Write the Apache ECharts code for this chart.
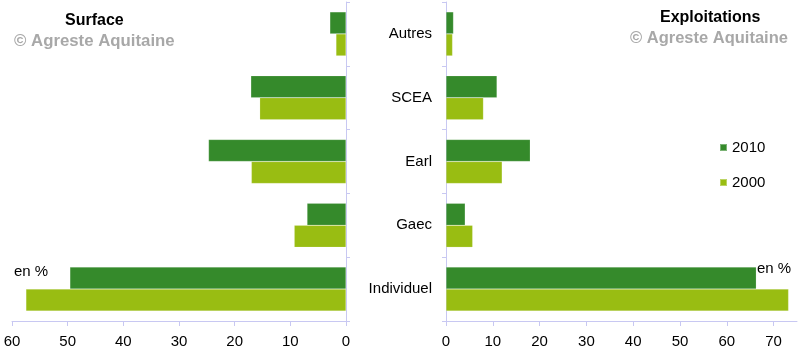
<!DOCTYPE html>
<html><head><meta charset="utf-8">
<script src="https://cdn.jsdelivr.net/npm/echarts@6/dist/echarts.min.js"></script>
<style>html,body{margin:0;padding:0;background:#fff}#c{width:800px;height:356px}</style>
</head><body><div id="c"></div>
<script>
const categories = ['Autres', 'SCEA', 'Earl', 'Gaec', 'Individuel'];
const surface2010 = [2.9, 17.1, 24.7, 7.0, 49.6];
const surface2000 = [1.8, 15.5, 17.0, 9.3, 57.5];
const exploit2010 = [1.6, 10.9, 18.0, 4.1, 66.3];
const exploit2000 = [1.4, 8.0, 12.0, 5.7, 73.2];
const surfaceTicks = [0, 10, 20, 30, 40, 50, 60];
const exploitTicks = [0, 10, 20, 30, 40, 50, 60, 70];

const C2010 = '#358a2b', C2000 = '#99bd12';
const axisCol = '#c8c8f2';
const font = 'Liberation Sans, Arial, sans-serif';
const chart = echarts.init(document.getElementById('c'));
const barStyle = (c) => ({ color: c, borderColor: 'rgba(255,255,255,0.35)', borderWidth: 0.5 });
chart.setOption({
  animation: false,
  textStyle: { fontFamily: font },
  title: [
    { text: 'Surface', left: 60, top: 8, textStyle: { fontSize: 16, fontWeight: 'bold', color: '#000', fontFamily: font } },
    { text: '© Agreste Aquitaine', left: 9, top: 28, textStyle: { fontSize: 16.8, fontWeight: 'bold', color: '#a8a8a8', fontFamily: font } },
    { text: 'Exploitations', left: 655, top: 5, textStyle: { fontSize: 16, fontWeight: 'bold', color: '#000', fontFamily: font } },
    { text: '© Agreste Aquitaine', left: 625, top: 25, textStyle: { fontSize: 16.5, fontWeight: 'bold', color: '#a8a8a8', fontFamily: font } }
  ],
  legend: {
    orient: 'vertical', left: 714, top: 135, itemWidth: 7, itemHeight: 7, itemGap: 20,
    icon: 'rect', textStyle: { fontSize: 15, color: '#000', fontFamily: font, padding: [0, 0, 0, 0] },
    data: ['2010', '2000']
  },
  graphic: [
    { type: 'text', left: 14, top: 264, style: { text: 'en %', fontSize: 15, fill: '#000', fontFamily: font } },
    { type: 'text', left: 757, top: 261, style: { text: 'en %', fontSize: 15, fill: '#000', fontFamily: font } }
  ],
  grid: [
    { left: 12, right: 454, top: 2, bottom: 35 },
    { left: 446, right: 3, top: 2, bottom: 35 }
  ],
  xAxis: [
    { gridIndex: 0, type: 'value', inverse: true, min: surfaceTicks[0], max: surfaceTicks[surfaceTicks.length - 1], interval: 10,
      splitLine: { show: false }, axisLine: { show: true, lineStyle: { color: axisCol } },
      axisTick: { show: true, length: 5, lineStyle: { color: axisCol } },
      axisLabel: { fontSize: 15, color: '#000', margin: 13, fontFamily: font } },
    { gridIndex: 1, type: 'value', min: exploitTicks[0], max: 75, interval: 10,
      splitLine: { show: false }, axisLine: { show: true, lineStyle: { color: axisCol } },
      axisTick: { show: true, length: 5, lineStyle: { color: axisCol } },
      axisLabel: { fontSize: 15, color: '#000', margin: 13, fontFamily: font, showMaxLabel: false } }
  ],
  yAxis: [
    { gridIndex: 0, type: 'category', data: categories, inverse: true, position: 'right',
      axisLine: { show: true, lineStyle: { color: axisCol } },
      axisTick: { show: true, length: 4, lineStyle: { color: axisCol } },
      axisLabel: { show: false } },
    { gridIndex: 1, type: 'category', data: categories, inverse: true, position: 'left',
      axisLine: { show: true, lineStyle: { color: axisCol } },
      axisTick: { show: true, length: 4, lineStyle: { color: axisCol } },
      axisLabel: { show: true, fontSize: 15, color: '#000', margin: 14, fontFamily: font } }
  ],
  series: [
    { name: '2010', type: 'bar', xAxisIndex: 0, yAxisIndex: 0, data: surface2010, barCategoryGap: '31%', barGap: '0%', itemStyle: barStyle(C2010) },
    { name: '2000', type: 'bar', xAxisIndex: 0, yAxisIndex: 0, data: surface2000, barCategoryGap: '31%', barGap: '0%', itemStyle: barStyle(C2000) },
    { name: '2010', type: 'bar', xAxisIndex: 1, yAxisIndex: 1, data: exploit2010, barCategoryGap: '31%', barGap: '0%', itemStyle: barStyle(C2010) },
    { name: '2000', type: 'bar', xAxisIndex: 1, yAxisIndex: 1, data: exploit2000, barCategoryGap: '31%', barGap: '0%', itemStyle: barStyle(C2000) }
  ]
});
</script></body></html>
